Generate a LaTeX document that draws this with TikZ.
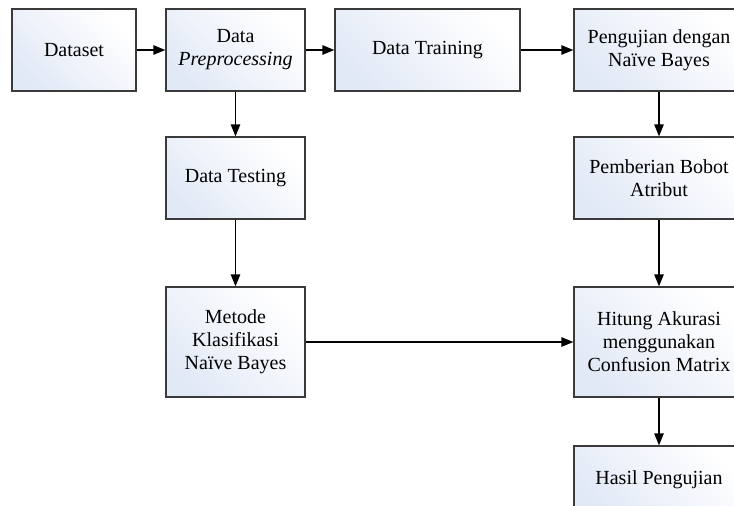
\documentclass[tikz,border=0pt]{standalone}
\usepackage{fontspec}
\setmainfont{Liberation Serif}
\usetikzlibrary{positioning,calc,arrows.meta}
\definecolor{boxblue}{HTML}{E2E9F6}
\definecolor{boxline}{HTML}{3A3A3A}

\begin{document}
\begin{tikzpicture}[x=0.5pt,y=-0.5pt,
  blok/.style={draw=boxline,line width=0.55pt,top color=boxblue,bottom color=white,
    shading angle=135,align=center,inner sep=2pt,
    minimum width=69.5pt,minimum height=41pt,
    font=\fontsize{10}{11.5}\selectfont},
  panah/.style={-{Triangle[length=6pt,width=4.6pt]},line width=0.9pt}]
\clip (0,0) rectangle (734,505);
% baris atas
\node[blok,minimum width=62pt] (dataset) at (74,50) {Dataset};
\node[blok] (prepro) at (235.5,50) {Data\\\textit{Preprocessing}};
\node[blok,minimum width=92.5pt] (training) at (427.5,50) {Data Training};
\node[blok,minimum width=85pt] (uji) at (659,50) {Pengujian dengan\\Naïve Bayes};
% kolom kiri
\node[blok] (testing) at (235.5,178) {Data Testing};
\node[blok,minimum height=55pt] (metode) at (235.5,342) {Metode\\Klasifikasi\\Naïve Bayes};
% kolom kanan
\node[blok,minimum width=85pt] (bobot) at (659,178) {Pemberian Bobot\\Atribut};
\node[blok,minimum width=85pt,minimum height=55pt] (akurasi) at (659,342) {Hitung Akurasi\\menggunakan\\Confusion Matrix};
\node[blok,minimum width=85pt,minimum height=34pt] (hasil) at (659,480) {Hasil Pengujian};

\draw[panah] (dataset) -- (prepro);
\draw[panah] (prepro) -- (training);
\draw[panah] (training) -- (uji);
\draw[panah] (prepro) -- (testing);
\draw[panah] (testing) -- (metode);
\draw[panah] (metode) -- (akurasi);
\draw[panah] (uji) -- (bobot);
\draw[panah] (bobot) -- (akurasi);
\draw[panah] (akurasi) -- (hasil);
\end{tikzpicture}
\end{document}
